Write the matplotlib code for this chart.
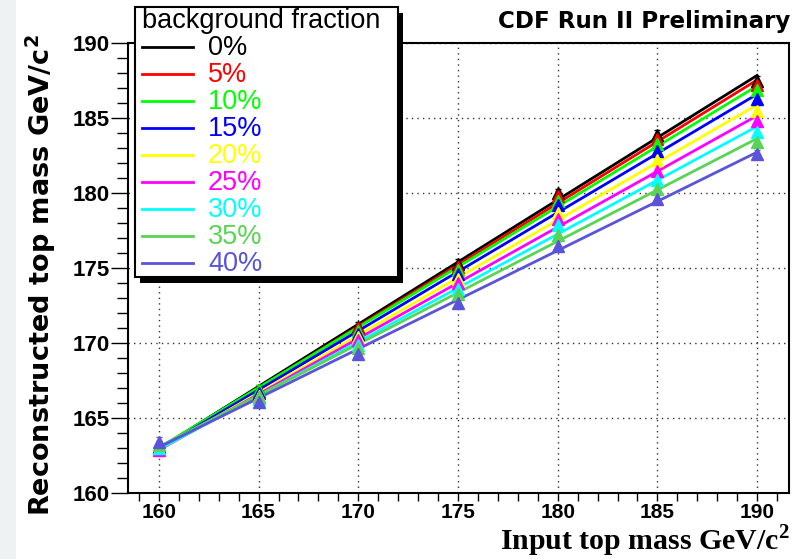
import numpy as np
import matplotlib
matplotlib.use("Agg")
import matplotlib.pyplot as plt
from matplotlib.patches import Rectangle
from matplotlib.ticker import MultipleLocator

# ---------------- data ----------------
input_mass = [160, 165, 170, 175, 180, 185, 190]
fractions = ["0%", "5%", "10%", "15%", "20%", "25%", "30%", "35%", "40%"]
colors = ["#000000", "#ff0000", "#00ff00", "#0000ff", "#ffff00",
          "#ff00ff", "#00ffff", "#59d454", "#5954d9"]

reco_0 = [163.1, 166.9, 171.1, 175.3, 180.0, 183.9, 187.5]
reco_5 = [163.0, 166.8, 171.0, 175.1, 179.8, 183.6, 187.2]
reco_10 = [163.2, 166.9, 170.8, 174.9, 179.5, 183.3, 186.9]
reco_15 = [163.1, 166.7, 170.6, 174.6, 179.2, 182.8, 186.3]
reco_20 = [162.9, 166.5, 170.4, 174.3, 178.7, 182.2, 185.5]
reco_25 = [162.9, 166.4, 170.2, 174.0, 178.3, 181.5, 184.8]
reco_30 = [163.0, 166.3, 169.9, 173.6, 177.9, 180.9, 184.1]
reco_35 = [163.2, 166.4, 169.7, 173.3, 177.2, 180.3, 183.4]
reco_40 = [163.4, 166.1, 169.3, 172.7, 176.5, 179.6, 182.6]
series = [reco_0, reco_5, reco_10, reco_15, reco_20, reco_25, reco_30, reco_35, reco_40]
reco_err = [0.3, 0.3, 0.3, 0.3, 0.3, 0.3, 0.3]

W, H = 807, 559
fig = plt.figure(figsize=(W / 100, H / 100), dpi=100)
fig.patch.set_facecolor("white")
fig.add_artist(Rectangle((0, 0), 16 / W, 1, transform=fig.transFigure,
                         facecolor="#eef2f2", edgecolor="none", zorder=-5))

ax = fig.add_axes([128 / W, 1 - 493 / H, (789 - 128) / W, (493 - 43) / H])
ax.set_xlim(158.45, 191.6)
ax.set_ylim(160, 190)

for vals, c in zip(series, colors):
    x = np.array(input_mass, dtype=float)
    y = np.array(vals, dtype=float)
    p = np.polyfit(x, y, 1)
    ax.plot([x[0], x[-1]], np.polyval(p, [x[0], x[-1]]), color=c, lw=2, zorder=3)
for vals, c in zip(series, colors):
    ax.errorbar(input_mass, vals, yerr=reco_err, fmt="^", color=c, ms=9,
                mec=c, elinewidth=1.2, capsize=2, zorder=4)

ax.xaxis.set_major_locator(MultipleLocator(5))
ax.xaxis.set_minor_locator(MultipleLocator(1))
ax.yaxis.set_major_locator(MultipleLocator(5))
ax.yaxis.set_minor_locator(MultipleLocator(1))
ax.grid(True, which="major", color="#333333", linestyle=(0, (1, 3)), lw=1, zorder=1)
ax.tick_params(axis="y", which="major", direction="out", length=12, width=1, pad=1)
ax.tick_params(axis="y", which="minor", direction="out", length=8, width=1)
ax.tick_params(axis="x", which="both", direction="out", length=6, width=1, pad=1)
for lab in ax.get_yticklabels():
    lab.set_fontfamily("Liberation Sans")
    lab.set_fontweight("bold")
    lab.set_fontsize(16)
for lab in ax.get_xticklabels():
    lab.set_fontfamily("Liberation Sans")
    lab.set_fontweight("bold")
    lab.set_fontsize(15)
for s in ax.spines.values():
    s.set_linewidth(1.5)
    s.set_color("black")

fig.text(41 / W, 1 - 275 / H, "Reconstructed top mass GeV/c$^\\mathregular{2}$",
         rotation=90, ha="center", va="center", fontfamily="DejaVu Sans",
         fontweight="bold", fontsize=19.5)
fig.text(790 / W, 1 - 550 / H, "Input top mass GeV/c$^\\mathregular{2}$",
         ha="right", va="baseline", fontfamily="Liberation Serif",
         fontweight="bold", fontsize=21.5)
fig.text(790 / W, 1 - 28 / H, "CDF Run II Preliminary", ha="right", va="baseline",
         fontfamily="DejaVu Sans", fontweight="bold", fontsize=16.6)

# ---------------- legend overlay (pixel coordinates) ----------------
ov = fig.add_axes([0, 0, 1, 1], zorder=10)
ov.set_xlim(0, W)
ov.set_ylim(H, 0)
ov.axis("off")
ov.patch.set_alpha(0)
ov.add_patch(Rectangle((140, 13), 263, 270, facecolor="black", edgecolor="none"))
ov.add_patch(Rectangle((135, 7), 263, 270, facecolor="white", edgecolor="black", lw=1.5))
ov.text(142, 28, "background fraction", ha="left", va="baseline",
        fontfamily="Liberation Sans", fontsize=19.5, color="black")
row_y = [47, 74, 101, 128, 155, 182, 209, 236, 263]
for ry, lab, c in zip(row_y, fractions, colors):
    ov.plot([142, 193], [ry, ry], color=c, lw=2)
    ov.text(208, ry + 8, lab, ha="left", va="baseline",
            fontfamily="Liberation Sans", fontsize=19.5, color=c)

fig.savefig("out.png", dpi=100)
